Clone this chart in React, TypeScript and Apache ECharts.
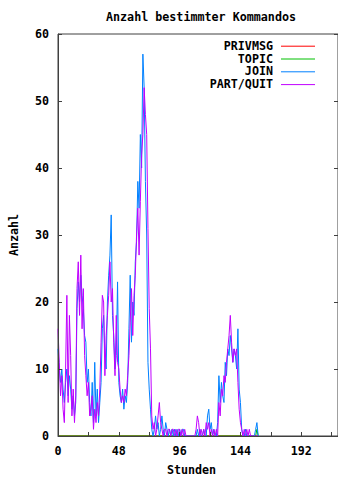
import React, { useEffect, useRef } from "react";
import * as echarts from "echarts";

const TITLE = "Anzahl bestimmter Kommandos";
const X_NAME = "Stunden";
const Y_NAME = "Anzahl";
const SERIES_NAMES = ["PRIVMSG", "TOPIC", "JOIN", "PART/QUIT"];
const COLORS = ["#ff0000", "#00c000", "#0080ff", "#c000ff"];

// sparse [hour, value] pairs
const PRIVMSG: [number, number][] = [[0, 0], [158, 0]];
const TOPIC: [number, number][] = [[0, 0], [155, 0], [156, 0], [157, 1], [158, 0]];

// hourly values, hour 0 .. 158
const JOIN = [
  13, 10, 8, 10, 7, 5, 8, 10, 6, 9,
  7, 4, 6, 3, 5, 19, 23, 20, 24, 21,
  19, 15, 14, 8, 10, 5, 3, 8, 2, 11,
  3, 7, 2, 5, 8, 16, 18, 12, 10, 20,
  24, 27, 33, 18, 15, 10, 12, 23, 8, 6,
  5, 7, 4, 6, 5, 8, 16, 24, 14, 20,
  18, 26, 29, 38, 34, 45, 40, 57, 52, 38,
  30, 11, 7, 4, 1, 0, 1, 3, 1, 2,
  0, 1, 3, 1, 0, 2, 1, 0, 1, 0,
  1, 0, 1, 0, 1, 0, 1, 0, 1, 1,
  0, 0, 0, 0, 0, 0, 0, 0, 0, 0,
  1, 0, 1, 0, 0, 1, 0, 0, 3, 4,
  1, 2, 0, 1, 0, 0, 2, 9, 5, 8,
  6, 5, 11, 9, 13, 12, 15, 13, 11, 13,
  12, 10, 16, 7, 5, 1, 0, 0, 1, 0,
  0, 0, 0, 0, 0, 0, 1, 2, 0,
];

const PART_QUIT = [
  16, 11, 6, 9, 4, 2, 10, 21, 5, 18,
  12, 3, 7, 2, 6, 22, 26, 18, 27, 16,
  22, 12, 9, 6, 8, 3, 4, 6, 1, 4,
  2, 5, 3, 7, 14, 21, 20, 9, 15, 18,
  21, 26, 20, 22, 14, 9, 18, 11, 10, 7,
  5, 6, 5, 7, 6, 9, 12, 17, 22, 15,
  21, 24, 30, 34, 27, 35, 42, 45, 52, 48,
  45, 31, 19, 13, 3, 1, 2, 0, 1, 3,
  5, 2, 1, 0, 1, 1, 0, 1, 1, 0,
  1, 1, 0, 1, 0, 1, 1, 0, 1, 0,
  1, 0, 0, 0, 0, 0, 0, 0, 0, 1,
  3, 2, 0, 1, 0, 1, 0, 2, 1, 2,
  0, 1, 0, 1, 0, 1, 0, 5, 3, 7,
  6, 9, 8, 11, 13, 15, 18, 14, 11, 13,
  12, 13, 8, 4, 2, 1, 0, 1, 0, 1,
  0, 1, 0, 0, 0, 0, 0, 0, 0,
];

const X_MIN = 0;
const X_MAX = 221;
const X_INTERVAL = 24;
const X_LABEL_STEP = 48;
const Y_MIN = 0;
const Y_MAX = 60;
const Y_INTERVAL = 10;

const FONT = "DejaVu Sans Mono";
const FS = 11.7;
const AXIS_COLOR = "#404040";

export default function App() {
  const ref = useRef<HTMLDivElement>(null);
  useEffect(() => {
    document.body.style.margin = "0";
    if (!ref.current) return;
    const chart = echarts.init(ref.current, null, { renderer: "svg", width: 338, height: 481 });
    const toPairs = (arr: number[]) => arr.map((v, i) => [i, v]);
    const seriesData = [PRIVMSG, TOPIC, toPairs(JOIN), toPairs(PART_QUIT)];
    const textStyle = { fontFamily: FONT, fontWeight: "bold" as const, fontSize: FS, color: "#000" };

    const legendGraphics: any[] = [];
    SERIES_NAMES.forEach((n, i) => {
      const y = 45.7 + i * 12.8;
      legendGraphics.push({
        type: "text",
        x: 273,
        y,
        style: { text: n, ...textStyle, fill: "#000", align: "right", verticalAlign: "middle" },
        z: 100,
      });
      legendGraphics.push({
        type: "line",
        shape: { x1: 281, y1: y + 0.5, x2: 315, y2: y + 0.5 },
        style: { stroke: COLORS[i], lineWidth: 1 },
        z: 100,
      });
    });

    chart.setOption({
      animation: false,
      backgroundColor: "#fff",
      grid: {
        left: 57,
        right: -1,
        top: 34,
        bottom: 40,
        show: true,
        borderColor: AXIS_COLOR,
        borderWidth: 1,
        backgroundColor: "transparent",
      },
      title: {
        text: TITLE,
        left: 196,
        top: 6,
        textAlign: "center",
        textStyle: { ...textStyle },
      },
      xAxis: {
        type: "value",
        min: X_MIN,
        max: X_MAX,
        interval: X_INTERVAL,
        z: 5,
        name: X_NAME,
        nameLocation: "middle",
        nameGap: 28,
        nameTextStyle: { ...textStyle, padding: [0, 0, 0, -13] },
        axisLine: { show: true, lineStyle: { color: AXIS_COLOR, width: 1 } },
        axisTick: { show: true, inside: true, length: 4, lineStyle: { color: AXIS_COLOR } },
        axisLabel: {
          ...textStyle,
          margin: 9,
          showMaxLabel: false,
          formatter: (v: number) => (v % X_LABEL_STEP === 0 ? String(v) : ""),
        },
        splitLine: { show: false },
      },
      yAxis: [
        {
          type: "value",
          min: Y_MIN,
          max: Y_MAX,
          interval: Y_INTERVAL,
          z: 5,
          name: Y_NAME,
          nameLocation: "middle",
          nameGap: 38,
          nameRotate: 90,
          nameTextStyle: { ...textStyle },
          axisLine: { show: true, lineStyle: { color: AXIS_COLOR, width: 1 } },
          axisTick: { show: true, inside: true, length: 4, lineStyle: { color: AXIS_COLOR } },
          axisLabel: { ...textStyle, margin: 9 },
          splitLine: { show: false },
        },
        {
          type: "value",
          position: "right",
          min: Y_MIN,
          max: Y_MAX,
          interval: Y_INTERVAL,
          z: 5,
          axisLine: { show: false },
          axisTick: { show: true, inside: true, length: 4, lineStyle: { color: AXIS_COLOR } },
          axisLabel: { show: false },
          splitLine: { show: false },
        },
      ],
      series: SERIES_NAMES.map((n, i) => ({
        name: n,
        type: "line",
        yAxisIndex: 0,
        showSymbol: false,
        symbol: "none",
        data: seriesData[i],
        lineStyle: { color: COLORS[i], width: 1 },
        itemStyle: { color: COLORS[i] },
        z: 2 + i * 0.01,
      })),
      graphic: legendGraphics,
    });
    return () => chart.dispose();
  }, []);
  return <div ref={ref} style={{ position: "absolute", left: 0, top: 0, width: 338, height: 481 }} />;
}
